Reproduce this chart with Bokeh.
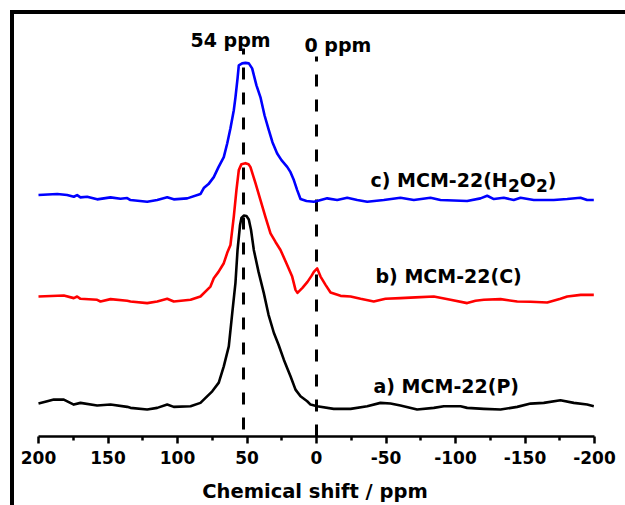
from bokeh.plotting import figure
from bokeh.models import Range1d, FixedTicker
from bokeh.core.properties import value
from bokeh.embed import file_html
from bokeh.resources import INLINE

# ---------------- data ----------------
# a) MCM-22(P)  -- black
shift_a = [200, 193.7, 189.0, 181.8, 174.6, 169.8, 157.8, 148.2, 136.2, 133.8, 121.8, 114.6,
           107.4, 102.7, 90.6, 83.5, 75.0, 70.3, 66.7, 63.1, 60.6, 58.3, 56.8, 55.0, 54.0,
           52.3, 50.4, 48.7, 47.1, 45.1, 41.7, 37.9, 34.5, 30.7, 27.3, 23.5, 20.9, 18.7,
           15.1, 11.5, 6.7, 4.3, -0.5, -12.4, -24.5, -36.5, -46.0, -53.2, -60.4, -72.4,
           -84.4, -91.6, -103.6, -108.4, -120.4, -132.4, -144.4, -154.0, -163.5, -175.5,
           -185.1, -194.7, -199.5]
int_a = [33, 35.3, 37, 37, 32, 33.7, 31, 32, 29.7, 28.7, 27, 28.7,
         32, 29.7, 30.3, 33.7, 45.3, 54, 70.3, 90.3, 124, 154, 187, 212, 219,
         221.5, 221, 217.5, 207, 187, 165, 143.7, 122, 104, 92, 77, 68, 60.3,
         47, 40.3, 35.3, 32, 30.3, 27.7, 27.7, 30.3, 33.7, 33, 31, 27,
         28.7, 30.3, 30.3, 28.7, 27.7, 27, 29.7, 33, 33.7, 36.3,
         33.7, 32, 30.3]

# b) MCM-22(C)  -- red
shift_b = [200, 181.8, 174.6, 172.2, 169.8, 157.8, 155.4, 148.2, 136.2, 133.8, 121.8, 114.6,
           107.4, 102.7, 90.6, 83.5, 76.3, 73.9, 70.5, 66.7, 64.0, 61.9, 59.5, 57.6, 55.9,
           54.0, 51.1, 48.9, 47.5, 43.9, 40.3, 36.7, 33.1, 29.5, 25.9, 21.1, 17.5, 15.1,
           13.7, 10.1, 6.5, 3.6, 1.9, -0.5, -2.9, -6.5, -10.1, -17.3, -24.5, -31.7, -41.2,
           -49.6, -60.4, -71.2, -84.4, -96.4, -108.4, -114.4, -120.4, -132.4, -144.4,
           -154.0, -166.0, -175.5, -180.4, -190.1, -199.5]
int_b = [140.3, 141.3, 138.7, 140.3, 138, 137, 135.3, 137.7, 136, 135.3, 133.7, 135.3,
         138, 135.3, 137, 140.3, 150.3, 158.7, 165, 173.7, 185, 192, 220.3, 247, 267,
         273, 274, 273, 270, 254, 237, 220, 203.7, 195, 187, 172, 160.3, 147,
         144, 149, 155, 161, 165, 168.5, 160.3, 152, 144.3, 141, 140.3, 138, 135.3,
         138, 138.7, 139.5, 140.3, 137, 133.7, 136, 137, 137.7, 135.3,
         135, 134.3, 138, 140.3, 142, 142]

# c) MCM-22(H2O2)  -- blue
shift_c = [200, 186.5, 179.4, 174.6, 172.2, 169.8, 165.0, 157.8, 148.2, 141.0, 136.2, 133.8,
           121.8, 114.6, 107.4, 102.7, 93.0, 83.5, 81.1, 77.7, 73.9, 70.5, 66.7, 64.2, 61.9,
           59.5, 58.3, 56.8, 55.9, 53.5, 51.1, 48.7, 46.3, 43.2, 40.3, 37.4, 34.3, 31.7,
           28.3, 25.2, 21.1, 18.7, 16.3, 13.9, 11.5, 7.2, 1.9, -0.5, -7.7, -14.9, -22.1,
           -29.3, -36.5, -48.4, -60.4, -70.0, -82.0, -89.2, -108.4, -118.0, -122.8, -127.6,
           -134.7, -141.9, -146.8, -156.3, -170.7, -180.4, -189.9, -194.7, -199.5]
int_c = [242, 243, 242, 240.3, 242, 239.7, 240.3, 237.7, 239.7, 238.3, 239, 237,
         235.3, 237, 239.7, 237.7, 238.7, 243, 249, 253, 260, 270, 280, 294, 309,
         327, 340, 359, 372, 374, 374.5, 374, 369, 352, 340, 322, 307, 295,
         283.7, 277, 270.3, 265, 257, 247, 238, 236, 235.3, 236, 238.7, 237, 239.3,
         237, 235.3, 237, 239.3, 237, 239.3, 237, 236, 238.7, 241.3, 238,
         239.3, 237, 239.3, 237, 237, 238, 239.3, 237, 237]

x_ticks = [200, 150, 100, 50, 0, -50, -100, -150, -200]
x_minor = [175, 125, 75, 25, -25, -75, -125, -175]
ref_lines = [52.5, 0]
ref_labels = ["54 ppm", "0 ppm"]
sample_labels = ["a) MCM-22(P)", "b) MCM-22(C)"]

# ---------------- layout helpers (page pixel geometry) ----------------
PX0, PX200 = 38.0, 594.0          # page x of 200 and -200 ppm
OFF = 14                          # figure placed 14 px from page left/top
FRAME_L, FRAME_R = 14, 615
FRAME_T, FRAME_B = 14, 437
SC = (PX200 - PX0) / 400.0
TXT = 7                           # baseline correction for text glyphs


def px2x(px):
    return 200 - (px - PX0) / SC


def py2y(py):
    return FRAME_B - py


FONT = value("DejaVu Sans")

p = figure(width=625 - OFF, height=505 - OFF,
           x_range=Range1d(px2x(FRAME_L), px2x(FRAME_R)),
           y_range=Range1d(0, FRAME_B - FRAME_T),
           output_backend="svg", toolbar_location=None,
           y_axis_location=None,
           min_border_left=0, min_border_right=625 - FRAME_R,
           min_border_top=0, min_border_bottom=505 - FRAME_B)
p.margin = (OFF, 0, 0, OFF)
p.styles = {"box-shadow": "-4px 0px 0px 0px black, 0px -4px 0px 0px black, -4px -4px 0px 0px black"}
p.outline_line_color = None
p.grid.visible = False
p.background_fill_color = "white"
p.border_fill_color = "white"

ax = p.xaxis[0]
ax.ticker = FixedTicker(ticks=x_ticks, minor_ticks=x_minor)
ax.major_label_overrides = {t: str(t) for t in x_ticks}
ax.bounds = (-200, 200)
ax.axis_line_width = 2.5
ax.major_tick_line_width = 2.5
ax.minor_tick_line_width = 2.5
ax.major_tick_in = 0
ax.major_tick_out = 7
ax.minor_tick_in = 0
ax.minor_tick_out = 4
ax.major_label_text_font = "DejaVu Sans"
ax.major_label_text_font_style = "bold"
ax.major_label_text_font_size = "17px"
ax.major_label_text_color = "black"
ax.major_label_standoff = 7
ax.axis_label = "Chemical shift / ppm"
ax.axis_label_text_font = "DejaVu Sans"
ax.axis_label_text_font_style = "bold"
ax.axis_label_text_font_size = "19.5px"
ax.axis_label_text_color = "black"
ax.axis_label_standoff = 13

# reference dashed lines
p.segment(x0=ref_lines, x1=ref_lines, y0=[py2y(430), py2y(437)],
          y1=[py2y(48), py2y(56)], line_color="black", line_width=3,
          line_dash="12 13")

# spectra
p.line(shift_a, int_a, line_color="black", line_width=2.6, line_join="round")
p.line(shift_b, int_b, line_color="#ff0000", line_width=2.6, line_join="round")
p.line(shift_c, int_c, line_color="#0000ff", line_width=2.6, line_join="round")

# text labels
lab = dict(text_font=FONT, text_font_style="bold", text_color="black",
           text_align="left", text_baseline="alphabetic")
p.text(x=[px2x(190), px2x(304)], y=[py2y(46.7 - TXT), py2y(51.7 - TXT)], text=ref_labels,
       text_font_size="19px", **lab)
p.text(x=[px2x(373), px2x(375)], y=[py2y(393.3 - TXT), py2y(283.3 - TXT)], text=sample_labels,
       text_font_size="19px", **lab)

cx, cy = px2x(370), py2y(187 - TXT)
p.text(x=[cx], y=[cy], text=["c) MCM-22(H"], text_font_size="19px", **lab)
p.text(x=[cx, cx], y=[cy, cy], text=["2", "2"], x_offset=[137.5, 165.5], y_offset=5,
       text_font_size="17px", **lab)
p.text(x=[cx, cx], y=[cy, cy], text=["O", ")"], x_offset=[149.3, 177.3],
       text_font_size="19px", **lab)

open("out.html", "w").write(file_html(p, INLINE))
